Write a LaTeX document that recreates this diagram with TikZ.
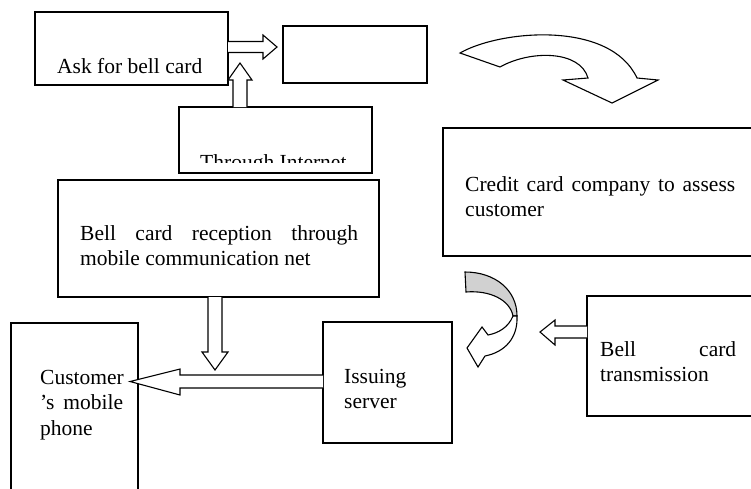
\documentclass[tikz,border=0pt]{standalone}
\usepackage{fontspec}
\setmainfont{Liberation Serif}
\begin{document}
\begin{tikzpicture}[x=1pt,y=-1pt,
  box/.style={draw,line width=1.2pt,inner sep=0pt,outer sep=0pt},
  lbl/.style={anchor=base west,inner sep=0pt,align=left,font=\fontsize{21.5}{25.5}\selectfont},
  barrow/.style={draw,line width=1.1pt,fill=white,line join=miter}]
\useasboundingbox (0,0) rectangle (751,488);
\node[box,minimum width=193pt,minimum height=73pt] (ask) at (131.5,48.5) {};
\node[box,minimum width=144pt,minimum height=57pt] (blank) at (355,54.5) {};
\node[box,minimum width=193pt,minimum height=66pt] (inet) at (275.5,140) {};
\node[box,minimum width=321pt,minimum height=117pt] (recv) at (218.5,238.5) {};
\node[box,minimum width=312pt,minimum height=128pt] (credit) at (599,192) {};
\node[box,minimum width=127pt,minimum height=172pt] (phone) at (74.5,409) {};
\node[box,minimum width=129pt,minimum height=121pt] (issue) at (387.5,382.5) {};
\node[box,minimum width=168pt,minimum height=120pt] (trans) at (671,356) {};

\node[lbl] (asktxt) at (57,73) {Ask for bell card};
\begin{scope}
\clip (179,100) rectangle (372,162);
\node[lbl] (inettxt) at (200,169) {Through Internet};
\end{scope}
\node[lbl] (recvtxt) at (80,265.5) {\makebox[278pt][s]{Bell card reception through}\\mobile communication net};
\node[lbl] (credittxt) at (465,216.5) {\makebox[270pt][s]{Credit card company to assess}\\customer};
\node[lbl] (phonetxt) at (40,435) {Customer\\\makebox[83pt][s]{'s mobile}\\phone};
\node[lbl] (issuetxt) at (344,408.5) {Issuing\\server};
\node[lbl] (transtxt) at (600,381.5) {\makebox[136pt][s]{Bell card}\\transmission};

\draw[barrow] (ask.east |- 0,41.5) -- (263,41.5) -- (263,35) -- (277,47) -- (263,59) -- (263,52.5) -- (ask.east |- 0,52.5);
\draw[barrow] (inet.north -| 233,0) -- (233,80) -- (228,80) -- (240,63) -- (252,80) -- (247,80) -- (inet.north -| 247,0);
\draw[barrow] (recv.south -| 208,0) -- (208,352) -- (202,352) -- (215,370) -- (228,352) -- (222,352) -- (recv.south -| 222,0);
\draw[barrow] (issue.west |- 0,375) -- (180,375) -- (180,369) -- (130,381.5) -- (180,395) -- (180,388) -- (issue.west |- 0,388);
\draw[barrow] (trans.west |- 0,326) -- (555,326) -- (555,320) -- (540,332) -- (555,345) -- (555,338) -- (trans.west |- 0,338);

\draw[barrow] (460,53) .. controls (500,30) and (610,20) .. (637,78) -- (658,80) -- (612,103) -- (563,80) -- (588,78) .. controls (580,50) and (530,50) .. (500,67) -- cycle;
\draw[barrow,fill=black!18] (465,272) .. controls (495,272) and (517,290) .. (517,316) -- (513,316) .. controls (510,300) and (490,290) .. (466,292) -- cycle;
\draw[barrow] (513,316) .. controls (508,328) and (498,333) .. (488,335) -- (482,327) -- (467,348) -- (478,367) -- (485,356) .. controls (505,352) and (518,338) .. (517,316) -- cycle;
\end{tikzpicture}
\end{document}
